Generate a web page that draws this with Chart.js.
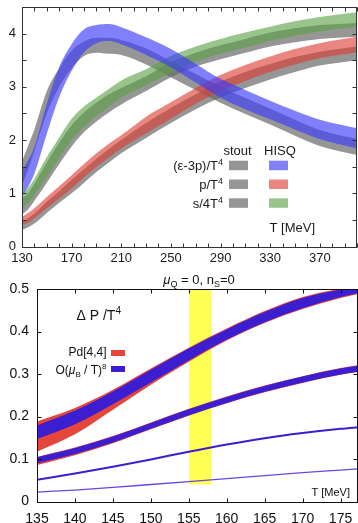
<!DOCTYPE html>
<html>
<head>
<meta charset="utf-8">
<script src="https://cdn.jsdelivr.net/npm/chart.js@4.4.1/dist/chart.umd.min.js"></script>
<style>
  html, body { margin: 0; padding: 0; background: #fff; }
  #wrap { position: relative; width: 358px; height: 523px; overflow: hidden; }
  canvas { position: absolute; left: 0; }
  #top { top: 0; }
  #bottom { top: 264px; }
</style>
</head>
<body>
<div id="wrap">
  <canvas id="top" width="358" height="264"></canvas>
  <canvas id="bottom" width="358" height="259"></canvas>
</div>
<script>
// ---- upper panel: HISQ vs stout bands (lower / upper edge) ----
const tempsUp = [130, 135, 140, 150, 160, 170, 180, 190, 200, 210, 230, 250, 270, 290, 310, 330, 350, 370, 400];

const hisqE3pLo = [0.95, 1.12, 1.37, 2.12, 2.81, 3.30, 3.65, 3.82, 3.86, 3.80, 3.60, 3.37, 3.08, 2.80, 2.58, 2.39, 2.20, 2.02, 1.84];
const hisqE3pHi = [1.42, 1.62, 1.87, 2.68, 3.37, 3.80, 4.08, 4.16, 4.18, 4.12, 3.93, 3.71, 3.43, 3.15, 2.94, 2.74, 2.55, 2.38, 2.22];
const stoutE3pLo = [1.15, 1.45, 1.80, 2.50, 3.00, 3.35, 3.58, 3.64, 3.62, 3.60, 3.42, 3.18, 2.94, 2.70, 2.49, 2.29, 2.08, 1.89, 1.72];
const stoutE3pHi = [1.60, 1.90, 2.20, 2.92, 3.35, 3.68, 3.85, 3.92, 3.92, 3.88, 3.72, 3.48, 3.24, 3.00, 2.79, 2.59, 2.38, 2.19, 2.02];

const hisqPLo = [0.40, 0.45, 0.53, 0.72, 0.90, 1.09, 1.30, 1.50, 1.67, 1.84, 2.13, 2.40, 2.68, 2.92, 3.11, 3.28, 3.42, 3.54, 3.65];
const hisqPHi = [0.56, 0.63, 0.72, 0.93, 1.13, 1.34, 1.55, 1.75, 1.93, 2.09, 2.44, 2.71, 2.98, 3.22, 3.41, 3.57, 3.71, 3.82, 3.94];
const stoutPLo = [0.31, 0.36, 0.43, 0.63, 0.82, 1.00, 1.20, 1.40, 1.58, 1.75, 2.04, 2.32, 2.58, 2.80, 2.98, 3.14, 3.28, 3.40, 3.50];
const stoutPHi = [0.46, 0.53, 0.62, 0.84, 1.04, 1.25, 1.45, 1.65, 1.83, 2.00, 2.32, 2.60, 2.86, 3.10, 3.28, 3.43, 3.56, 3.66, 3.76];

const hisqSLo = [0.72, 0.82, 0.97, 1.31, 1.66, 2.00, 2.25, 2.45, 2.62, 2.80, 3.03, 3.27, 3.47, 3.62, 3.74, 3.86, 3.96, 4.04, 4.13];
const hisqSHi = [0.98, 1.10, 1.27, 1.68, 2.05, 2.40, 2.63, 2.80, 2.96, 3.12, 3.33, 3.58, 3.76, 3.90, 4.02, 4.13, 4.23, 4.31, 4.40];
const stoutSLo = [0.60, 0.70, 0.86, 1.20, 1.55, 1.88, 2.15, 2.35, 2.52, 2.67, 2.92, 3.18, 3.38, 3.52, 3.64, 3.76, 3.84, 3.90, 3.94];
const stoutSHi = [0.90, 1.00, 1.18, 1.58, 1.95, 2.28, 2.52, 2.70, 2.86, 2.98, 3.20, 3.46, 3.64, 3.78, 3.90, 4.02, 4.10, 4.16, 4.20];

const tempTicksUp = [130, 140, 150, 160, 170, 180, 190, 200, 210, 220, 230, 240, 250, 260, 270, 280, 290, 300, 310, 320, 330, 340, 350, 360, 370, 380, 390, 400];
const tempLabelsUp = [130, 170, 210, 250, 290, 330, 370];
const valTicksUp = [0, 0.25, 0.5, 0.75, 1, 1.25, 1.5, 1.75, 2, 2.25, 2.5, 2.75, 3, 3.25, 3.5, 3.75, 4, 4.25, 4.5];
const valLabelsUp = [0, 1, 2, 3, 4];

// ---- lower panel: Delta P / T^4 ----
const tempsLow = [135, 140, 145, 150, 155, 160, 165, 170, 175, 177.5];
const o8TopLo = [0.147, 0.182, 0.229, 0.280, 0.332, 0.381, 0.422, 0.455, 0.481, 0.491];
const o8TopHi = [0.179, 0.214, 0.259, 0.310, 0.360, 0.405, 0.446, 0.479, 0.499, 0.507];
const pdTopLo = [0.117, 0.158, 0.216, 0.275, 0.329, 0.379, 0.420, 0.453, 0.479, 0.489];
const pdTopHi = [0.188, 0.220, 0.263, 0.313, 0.362, 0.407, 0.448, 0.481, 0.501, 0.509];
const o8MidLo = [0.090, 0.112, 0.139, 0.171, 0.203, 0.232, 0.258, 0.280, 0.299, 0.306];
const o8MidHi = [0.104, 0.126, 0.153, 0.185, 0.217, 0.246, 0.272, 0.294, 0.313, 0.320];
const pdMidLo = [0.086, 0.109, 0.137, 0.170, 0.202, 0.231, 0.257, 0.279, 0.298, 0.305];
const pdMidHi = [0.105, 0.127, 0.154, 0.186, 0.218, 0.247, 0.273, 0.295, 0.314, 0.321];
const o8Low = [0.051, 0.066, 0.082, 0.099, 0.117, 0.134, 0.149, 0.161, 0.171, 0.175];
const o8Lowest = [0.022, 0.027, 0.033, 0.040, 0.047, 0.054, 0.061, 0.068, 0.074, 0.077];

const tcBandT = [155, 158];
const tcBandLo = [0.04, 0.04];
const tcBandHi = [0.5, 0.5];

const tempTicksLow = [135, 140, 145, 150, 155, 160, 165, 170, 175];
const valTicksLow = [0, 0.1, 0.2, 0.3, 0.4, 0.5];

const FONT = '"Liberation Sans", Arial, Helvetica, sans-serif';
const GREY = 'rgba(105,105,105,0.7)';
const BLUE = 'rgba(60,60,250,0.65)';
const RED = 'rgba(220,60,50,0.62)';
const GREEN = 'rgba(90,160,70,0.62)';
const DEEPBLUE = 'rgb(58,30,208)';
const DEEPRED = 'rgb(228,70,60)';

function pts(xs, ys) {
  return xs.map((x, i) => ({ x: x, y: ys[i] }));
}

// band = upper edge filled down to the next dataset (lower edge)
function band(xs, lo, hi, color) {
  const base = { borderWidth: 0, pointRadius: 0, cubicInterpolationMode: 'monotone' };
  return [
    Object.assign({ data: pts(xs, hi), fill: '+1', backgroundColor: color, borderColor: color }, base),
    Object.assign({ data: pts(xs, lo), fill: false, borderColor: color }, base)
  ];
}

function richText(ctx, parts, x, y, align) {
  let w = 0;
  parts.forEach(p => { ctx.font = (p.it ? 'italic ' : '') + p.s + 'px ' + FONT; w += ctx.measureText(p.t).width; });
  let cx = align === 'right' ? x - w : align === 'center' ? x - w / 2 : x;
  parts.forEach(p => {
    ctx.font = (p.it ? 'italic ' : '') + p.s + 'px ' + FONT;
    ctx.fillText(p.t, cx, y + (p.dy || 0));
    cx += ctx.measureText(p.t).width;
  });
}

// gnuplot-like frame with ticks pointing inwards
const frameTicks = {
  id: 'frameTicks',
  afterDatasetsDraw(chart, args, opts) {
    const ctx = chart.ctx, a = chart.chartArea;
    const xs = chart.scales.x, ys = chart.scales.y;
    const L = Math.round(a.left) + 0.5, R = Math.round(a.right) - 0.5;
    const T = Math.round(a.top) + 0.5, B = Math.round(a.bottom) + 0.5;
    ctx.save();
    ctx.strokeStyle = opts.color;
    ctx.lineWidth = 1;
    xs.ticks.forEach(t => {
      const px = Math.round(xs.getPixelForValue(t.value)) + 0.5;
      ctx.beginPath();
      ctx.moveTo(px, B); ctx.lineTo(px, B - opts.len);
      ctx.moveTo(px, T); ctx.lineTo(px, T + opts.len);
      ctx.stroke();
    });
    ys.ticks.forEach(t => {
      const py = Math.round(ys.getPixelForValue(t.value)) + 0.5;
      ctx.beginPath();
      ctx.moveTo(L, py); ctx.lineTo(L + opts.len, py);
      ctx.moveTo(R, py); ctx.lineTo(R - opts.len, py);
      ctx.stroke();
    });
    ctx.strokeRect(L, T, R - L, B - T);
    ctx.restore();
  }
};

const upperText = {
  id: 'upperText',
  afterDraw(chart) {
    const ctx = chart.ctx;
    ctx.save();
    ctx.fillStyle = '#1a1a1a';
    ctx.textBaseline = 'alphabetic';
    richText(ctx, [{ t: 'stout', s: 13 }], 237.5, 154.5, 'center');
    richText(ctx, [{ t: 'HISQ', s: 13 }], 280, 154.5, 'center');
    richText(ctx, [{ t: '(\u03b5-3p)/T', s: 13 }, { t: '4', s: 9, dy: -5 }], 223, 170, 'right');
    richText(ctx, [{ t: 'p/T', s: 13 }, { t: '4', s: 9, dy: -5 }], 223, 189, 'right');
    richText(ctx, [{ t: 's/4T', s: 13 }, { t: '4', s: 9, dy: -5 }], 223, 207.5, 'right');
    richText(ctx, [{ t: 'T [MeV]', s: 13 }], 315, 232, 'right');
    const rowTops = [160.7, 179.5, 198.3];
    const hisqCols = [BLUE, RED, GREEN];
    rowTops.forEach((top, i) => {
      ctx.fillStyle = GREY;
      ctx.fillRect(229, top, 19, 9.5);
      ctx.fillStyle = hisqCols[i];
      ctx.fillRect(269, top, 19, 9.5);
    });
    ctx.restore();
  }
};

const lowerText = {
  id: 'lowerText',
  afterDraw(chart) {
    const ctx = chart.ctx;
    ctx.save();
    ctx.translate(0, -264);
    ctx.fillStyle = '#111';
    ctx.textBaseline = 'alphabetic';
    richText(ctx, [
      { t: '\u03bc', s: 13, it: true }, { t: 'Q', s: 9, dy: 3 }, { t: ' = 0, n', s: 13 },
      { t: 'S', s: 9, dy: 3 }, { t: '=0', s: 13 }
    ], 199, 283.5, 'center');
    richText(ctx, [{ t: '\u0394 P /T', s: 14 }, { t: '4', s: 10, dy: -6 }], 76.5, 320, 'left');
    richText(ctx, [{ t: 'Pd[4,4]', s: 12 }], 106.5, 356, 'right');
    richText(ctx, [
      { t: 'O(', s: 12 }, { t: '\u03bc', s: 12, it: true }, { t: 'B', s: 8, dy: 3 },
      { t: ' / T)', s: 12 }, { t: '8', s: 8, dy: -5 }
    ], 106.5, 374, 'right');
    richText(ctx, [{ t: 'T [MeV]', s: 11 }], 350, 495.5, 'right');
    ctx.fillStyle = DEEPRED;
    ctx.fillRect(111, 350, 14, 6);
    ctx.fillStyle = DEEPBLUE;
    ctx.fillRect(111, 366, 14, 6);
    ctx.restore();
  }
};

function fixX(height) {
  return s => { s.height = height; s.paddingLeft = 0; s.paddingRight = 0; };
}
function fixY(width) {
  return s => { s.width = width; s.paddingTop = 0; s.paddingBottom = 0; };
}

const upperSets = [].concat(
  band(tempsUp, hisqE3pLo, hisqE3pHi, BLUE),
  band(tempsUp, hisqPLo, hisqPHi, RED),
  band(tempsUp, hisqSLo, hisqSHi, GREEN),
  band(tempsUp, stoutE3pLo, stoutE3pHi, GREY),
  band(tempsUp, stoutPLo, stoutPHi, GREY),
  band(tempsUp, stoutSLo, stoutSHi, GREY)
);

new Chart(document.getElementById('top'), {
  type: 'line',
  data: { datasets: upperSets },
  options: {
    responsive: false,
    animation: false,
    devicePixelRatio: 1,
    layout: { padding: { top: 7, right: 1, left: 0, bottom: 0 } },
    plugins: { legend: { display: false }, tooltip: { enabled: false }, frameTicks: { len: 4, color: '#333' } },
    scales: {
      x: {
        type: 'linear', min: 130, max: 400,
        afterBuildTicks: s => { s.ticks = tempTicksUp.map(v => ({ value: v })); },
        afterFit: fixX(17.5),
        grid: { display: false, drawTicks: false }, border: { display: false },
        ticks: {
          autoSkip: false, maxRotation: 0, padding: 4.5, color: '#1a1a1a',
          font: { family: FONT, size: 13 },
          callback: v => tempLabelsUp.includes(v) ? String(v) : ''
        }
      },
      y: {
        min: 0, max: 4.5,
        afterBuildTicks: s => { s.ticks = valTicksUp.map(v => ({ value: v })); },
        afterFit: fixY(22),
        grid: { display: false, drawTicks: false }, border: { display: false },
        ticks: {
          padding: 6, color: '#1a1a1a',
          font: { family: FONT, size: 13 },
          callback: v => valLabelsUp.includes(v) ? String(v) : ''
        }
      }
    }
  },
  plugins: [frameTicks, upperText]
});

function curve(ys, color, width) {
  return { data: pts(tempsLow, ys), borderColor: color, borderWidth: width, pointRadius: 0, fill: false, cubicInterpolationMode: 'monotone' };
}

const lowerSets = [].concat(
  [curve(o8Lowest, 'rgb(105,70,225)', 1.3), curve(o8Low, DEEPBLUE, 2)],
  band(tempsLow, o8MidLo, o8MidHi, DEEPBLUE),
  band(tempsLow, pdMidLo, pdMidHi, DEEPRED),
  band(tempsLow, o8TopLo, o8TopHi, DEEPBLUE),
  band(tempsLow, pdTopLo, pdTopHi, DEEPRED),
  [
    { data: pts(tcBandT, tcBandHi), fill: '+1', backgroundColor: 'rgb(255,255,85)', borderWidth: 0, pointRadius: 0 },
    { data: pts(tcBandT, tcBandLo), fill: false, borderWidth: 0, pointRadius: 0 }
  ]
);

new Chart(document.getElementById('bottom'), {
  type: 'line',
  data: { datasets: lowerSets },
  options: {
    responsive: false,
    animation: false,
    devicePixelRatio: 1,
    layout: { padding: { top: 25, right: 0, left: 0, bottom: 0 } },
    plugins: { legend: { display: false }, tooltip: { enabled: false }, frameTicks: { len: 4, color: '#111' } },
    scales: {
      x: {
        type: 'linear', min: 135, max: 177.3,
        afterBuildTicks: s => { s.ticks = tempTicksLow.map(v => ({ value: v })); },
        afterFit: fixX(21.5),
        grid: { display: false, drawTicks: false }, border: { display: false },
        ticks: {
          autoSkip: false, maxRotation: 0, padding: 9.5, color: '#111',
          font: { family: FONT, size: 14 },
          callback: v => String(v)
        }
      },
      y: {
        min: 0, max: 0.5,
        afterBuildTicks: s => { s.ticks = valTicksLow.map(v => ({ value: v })); },
        afterFit: fixY(37),
        grid: { display: false, drawTicks: false }, border: { display: false },
        ticks: {
          padding: 8, color: '#111',
          font: { family: FONT, size: 14 },
          callback: v => v === 0 ? '0' : v.toFixed(1)
        }
      }
    }
  },
  plugins: [frameTicks, lowerText]
});
</script>
</body>
</html>
